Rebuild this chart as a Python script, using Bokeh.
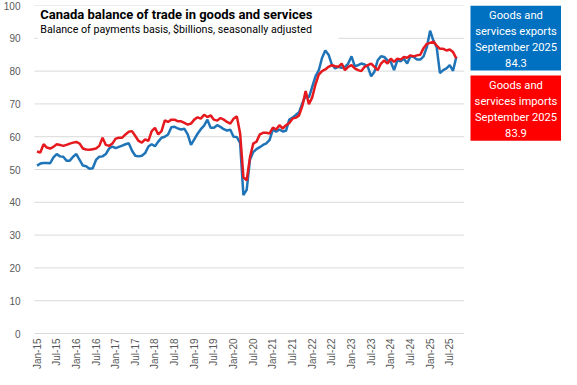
from bokeh.plotting import figure
from bokeh.layouts import row
from bokeh.models import Range1d, FixedTicker, ColumnDataSource, Grid
from bokeh.core.properties import value
from bokeh.embed import file_html
from bokeh.resources import INLINE

title = "Canada balance of trade in goods and services"
subtitle = "Balance of payments basis, $billions, seasonally adjusted"

tick_labels = ["Jan-15", "Jul-15", "Jan-16", "Jul-16", "Jan-17", "Jul-17", "Jan-18", "Jul-18",
               "Jan-19", "Jul-19", "Jan-20", "Jul-20", "Jan-21", "Jul-21", "Jan-22", "Jul-22",
               "Jan-23", "Jul-23", "Jan-24", "Jul-24", "Jan-25", "Jul-25"]
y_ticks = [0, 10, 20, 30, 40, 50, 60, 70, 80, 90, 100]

# Monthly values, Jan 2015 .. Sep 2025 ($ billions)
exports = [
    51.2, 51.8, 52.0, 52.0, 51.9, 53.7, 54.7, 54.0, 53.9, 52.7, 52.7, 53.9,
    54.7, 52.9, 51.2, 51.0, 50.2, 50.4, 52.9, 53.9, 54.0, 54.7, 56.4, 57.0,
    56.5, 56.9, 57.3, 57.7, 58.0, 55.7, 54.2, 54.0, 54.2, 55.0, 57.0, 57.7,
    57.1, 58.5, 59.7, 60.0, 60.7, 62.9, 63.0, 62.5, 62.2, 62.4, 60.7, 57.5,
    59.2, 60.9, 62.3, 63.4, 65.2, 62.7, 62.7, 63.5, 63.0, 62.3, 61.9, 62.1,
    60.0, 59.9, 58.0, 42.2, 43.8, 53.0, 55.3, 56.2, 56.8, 57.5, 58.0, 59.0,
    62.2, 61.5, 62.2, 61.6, 61.8, 65.2, 65.8, 66.6, 67.5, 70.2, 72.5, 72.0,
    75.2, 78.4, 80.2, 84.0, 86.3, 85.0, 82.0, 80.8, 81.3, 81.0, 81.3, 82.3,
    84.5, 81.5, 81.8, 82.3, 82.0, 81.3, 78.4, 79.8, 83.3, 84.5, 84.3, 83.3,
    82.8, 80.3, 83.3, 83.0, 83.8, 82.3, 84.5, 84.3, 83.5, 83.5, 84.5, 87.3,
    92.3, 89.3, 87.3, 79.4, 80.3, 80.8, 81.8, 80.1, 84.3,
]
imports = [
    55.5, 55.2, 57.7, 56.7, 56.4, 56.9, 57.7, 57.5, 57.2, 57.5, 57.9, 58.2,
    58.4, 57.9, 56.4, 56.1, 56.0, 56.2, 56.4, 57.2, 59.7, 57.5, 57.2, 57.9,
    59.4, 59.7, 59.7, 60.7, 61.5, 61.7, 60.2, 58.7, 58.2, 59.2, 58.7, 61.7,
    62.7, 60.7, 61.7, 65.0, 64.5, 65.2, 65.2, 64.7, 64.7, 64.2, 63.7, 64.0,
    65.2, 65.9, 65.5, 66.7, 66.0, 66.5, 65.2, 64.9, 65.7, 65.2, 64.5, 64.0,
    65.5, 66.2, 61.0, 47.7, 46.7, 53.7, 57.9, 58.5, 60.7, 61.2, 61.2, 61.0,
    62.8, 62.2, 63.5, 62.5, 63.5, 64.2, 65.5, 65.8, 66.5, 69.4, 73.9, 69.9,
    72.0, 75.9, 78.9, 80.0, 80.5, 81.3, 81.8, 81.5, 81.3, 82.3, 80.3, 81.3,
    81.8, 80.8, 80.3, 80.0, 81.3, 81.8, 82.3, 81.3, 80.3, 82.3, 83.3, 82.3,
    83.8, 82.8, 83.8, 83.5, 84.3, 84.1, 84.8, 84.5, 84.8, 85.0, 87.0, 88.3,
    88.6, 89.0, 87.8, 86.8, 86.8, 86.3, 86.6, 85.8, 83.9,
]

box_exports = ["Goods and", "services exports", "September 2025", "84.3"]
box_imports = ["Goods and", "services imports", "September 2025", "83.9"]

BLUE_LINE = "#1F74B8"
RED_LINE = "#E5191E"
GRID = "#D9D9D9"
LABEL = "#595959"

H = 369
TOP = 5
AXIS_PX = 328            # pixel distance from value 100 to value 0
px_per_unit = AXIS_PX / 100.0
Y_MIN = -(H - TOP - AXIS_PX) / px_per_unit   # frame extends below 0 to hold category labels
X_START, X_GRID0, X_END = -2.0, -0.8, 130.5

months = list(range(len(exports)))
src = ColumnDataSource(dict(m=months, exp=exports, imp=imports))

p = figure(width=466, height=H, x_range=Range1d(X_START, X_END), y_range=Range1d(Y_MIN, 100),
           output_backend="svg", toolbar_location=None, x_axis_location=None,
           min_border_left=22, min_border_right=2, min_border_top=TOP, min_border_bottom=0)
p.background_fill_color = "white"
p.border_fill_color = "white"
p.outline_line_color = None
p.center = [r for r in p.center if not isinstance(r, Grid)]

# y axis (labels only)
p.yaxis.ticker = FixedTicker(ticks=y_ticks)
p.yaxis.axis_line_color = None
p.yaxis.major_tick_line_color = None
p.yaxis.minor_tick_line_color = None
p.yaxis.major_label_standoff = 4
p.yaxis.major_label_text_font = "Liberation Sans"
p.yaxis.major_label_text_font_size = "10px"
p.yaxis.major_label_text_color = LABEL

# horizontal gridlines
p.segment(x0=[X_GRID0] * len(y_ticks), x1=[X_END] * len(y_ticks), y0=y_ticks, y1=y_ticks,
          line_color=GRID, line_width=1)

# white title box covering gridlines
p.quad(left=[0.2], right=[92.0], bottom=[89.6], top=[99.6], fill_color="white", line_color=None)
p.text(x=[1.0], y=[97.3], text=[title], text_font=value("Roboto"), text_font_style="bold",
       text_font_size="13px", text_baseline="middle", text_color="black")
p.text(x=[1.0], y=[92.8], text=[subtitle], text_font=value("Roboto"),
       text_font_size="10.7px", text_baseline="middle", text_color="black")

# category labels every 6 months, rotated, just below the zero line
tick_pos = [6 * i for i in range(len(tick_labels))]
p.text(x=tick_pos, y=[-5 / px_per_unit] * len(tick_pos), text=tick_labels, angle=1.5708,
       text_align="right", text_baseline="middle",
       text_font=value("Liberation Sans"), text_font_size="10px", text_color=LABEL)

p.line("m", "exp", source=src, line_color=BLUE_LINE, line_width=2.5)
p.line("m", "imp", source=src, line_color=RED_LINE, line_width=2.5)

# side panel with the two boxes
side = figure(width=95, height=H, x_range=Range1d(0, 95), y_range=Range1d(H, 0),
              output_backend="svg", toolbar_location=None,
              x_axis_location=None, y_axis_location=None, min_border=0)
side.grid.visible = False
side.outline_line_color = None
side.background_fill_color = "white"
side.border_fill_color = "white"
side.quad(left=[4, 4], right=[95, 95], top=[0, 71], bottom=[66, 137],
          fill_color=["#0070C0", "#FF0000"], line_color=None)
offs = [10.6, 26.4, 42.2, 58.0]
side.text(x=[49.5] * 4, y=[0 + o for o in offs], text=box_exports, text_font=value("Roboto"),
          text_font_size="11.2px", text_align="center", text_baseline="middle", text_color="white")
side.text(x=[49.5] * 4, y=[71 + o for o in offs], text=box_imports, text_font=value("Roboto"),
          text_font_size="11.2px", text_align="center", text_baseline="middle", text_color="white")

layout = row(p, side)
open("out.html", "w").write(file_html(layout, INLINE))
